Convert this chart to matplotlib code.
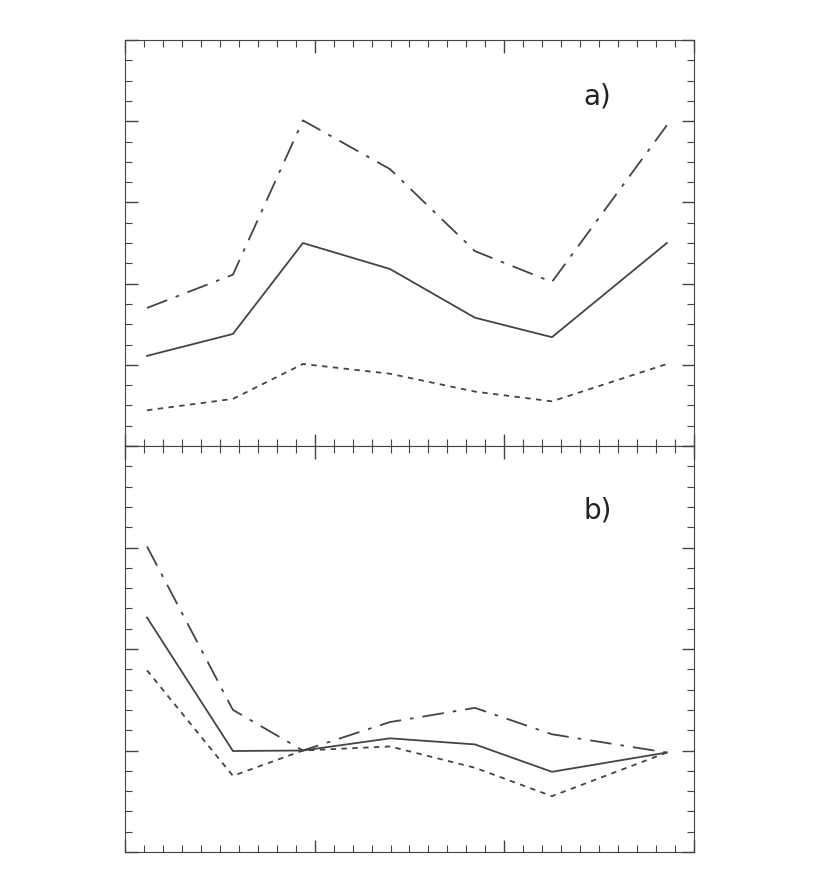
import matplotlib
matplotlib.use("Agg")
import matplotlib.pyplot as plt
from matplotlib.ticker import MultipleLocator

x = [0.116, 0.569, 0.938, 1.397, 1.845, 2.251, 2.857]
a_solid = [1.11, 1.38, 2.50, 2.18, 1.58, 1.34, 2.50]
a_dashdot = [1.70, 2.11, 4.01, 3.41, 2.40, 2.02, 3.95]
a_dotted = [0.44, 0.58, 1.01, 0.89, 0.67, 0.55, 1.01]
b_solid = [2.31, 0.995, 1.00, 1.12, 1.06, 0.79, 0.98]
b_dashdot = [3.01, 1.40, 1.00, 1.28, 1.42, 1.16, 0.98]
b_dotted = [1.79, 0.75, 1.00, 1.04, 0.83, 0.55, 0.98]

fig = plt.figure(figsize=(8.2, 8.92), dpi=100)
W, H = 820, 892
c = "#444444"
axa = fig.add_axes([125/W, 1-446/H, 569/W, 406/H])
axb = fig.add_axes([125/W, 1-852/H, 569/W, 406/H])
for ax, data, ylim, lab, ty in [(axa, (a_solid, a_dashdot, a_dotted), 5, "a)", 0.86),
                                (axb, (b_solid, b_dashdot, b_dotted), 4, "b)", 0.84)]:
    s, dd, dt = data
    ax.plot(x, s, color=c, lw=1.3, ls="-")
    ax.plot(x, dd, color=c, lw=1.3, ls=(0, (12, 5, 2, 5)))
    ax.plot(x, dt, color=c, lw=1.3, ls=(0, (3, 3)))
    ax.set_xlim(0, 3)
    ax.set_ylim(0, ylim)
    ax.xaxis.set_major_locator(MultipleLocator(1))
    ax.xaxis.set_minor_locator(MultipleLocator(0.1))
    ax.yaxis.set_major_locator(MultipleLocator(1))
    ax.yaxis.set_minor_locator(MultipleLocator(0.25 if ylim == 5 else 0.2))
    ax.tick_params(which="both", direction="in", top=True, right=True, color=c,
                   labelleft=False, labelbottom=False)
    ax.tick_params(which="major", length=9, width=1)
    ax.tick_params(which="minor", length=5, width=0.8)
    for sp in ax.spines.values():
        sp.set_color(c)
    ax.text(0.83, ty, lab, transform=ax.transAxes, fontsize=20, color="#222222",
            ha="center", va="center")
fig.savefig("out.png", dpi=100, facecolor="white")
